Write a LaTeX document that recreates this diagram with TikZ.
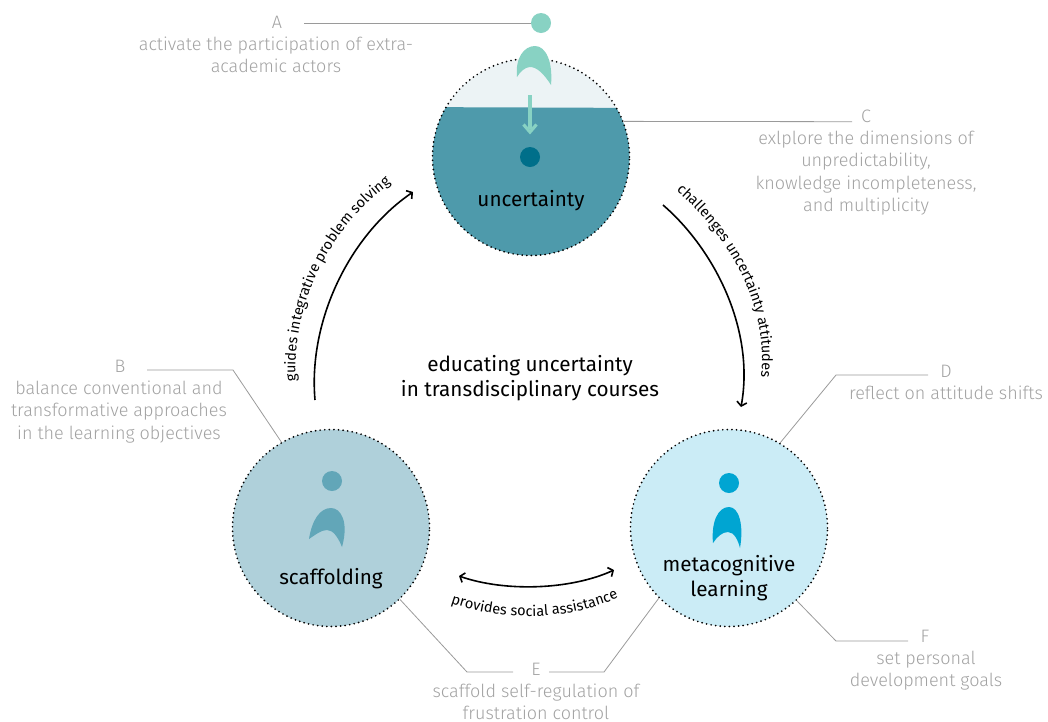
\documentclass[tikz,border=0pt]{standalone}
\usepackage{fontspec}
\setmainfont{Fira Sans}
\newfontfamily\lightfont{Fira Sans Light}
\usetikzlibrary{decorations.text,arrows.meta}
\definecolor{leadgray}{HTML}{9A9A9A}
\definecolor{notegray}{HTML}{A2A2A2}
\definecolor{mint}{HTML}{88D2C3}
\definecolor{topdark}{HTML}{4E9AAB}
\definecolor{toplight}{HTML}{ECF3F5}
\definecolor{topdot}{HTML}{006F8A}
\definecolor{scafffill}{HTML}{AFD0DA}
\definecolor{scaffdark}{HTML}{62A6B8}
\definecolor{metafill}{HTML}{CBECF6}
\definecolor{metadark}{HTML}{00A5D2}
\tikzset{
  stagecircle/.style={circle, draw=black, line width=1.9pt, line cap=round, dash pattern=on 0pt off 4.6pt, minimum size=197pt, inner sep=0pt},
  stagetext/.style={font=\fontsize{20.7}{25}\selectfont, align=center, text=black, inner sep=0pt},
  note/.style={font=\lightfont\fontsize{18}{22.4}\selectfont, align=center, text=notegray, inner sep=0pt},
  leader/.style={draw=leadgray, line width=.8pt},
  loop/.style={line width=1.6pt, >={Straight Barb[length=4pt,width=10pt]}},
}
\begin{document}
\begin{tikzpicture}[x=1pt,y=-1pt]
      \useasboundingbox (0,0) rectangle (1048,721);
      % circles
      \node[stagecircle, fill=toplight, path picture={\fill[topdark] (-131,-50) -- (129,-49) -- (129,140) -- (-131,140) -- cycle;}] (uncertainty) at (531,157) {};
      \node[stagecircle, fill=scafffill] (scaffolding) at (331,528) {};
      \node[stagecircle, fill=metafill] (metacognitive) at (729,528) {};
      \node[stagetext] (uncertaintytext) at (531,201) {uncertainty};
      \node[stagetext] (scaffoldingtext) at (331,579) {scaffolding};
      \node[stagetext] (metacognitivetext) at (729,578.5) {metacognitive\\learning};
      \node[stagetext] (centertext) at (530,378) {educating uncertainty\\in transdisciplinary courses};
      % persons
      \node[circle, fill=mint, minimum size=20pt, inner sep=0pt] (headA) at (541,23) {};
      \fill[mint] (517,77) .. controls (515,58) and (524,46) .. (535,46) .. controls (546,46) and (553,62) .. (551,85) .. controls (544,74) and (537,67) .. (530,67) .. controls (525,67) and (520,72) .. (517,77) -- cycle;
      \node[circle, fill=scaffdark, minimum size=20pt, inner sep=0pt] (headB) at (332,481) {};
      \fill[scaffdark] (309,539) .. controls (312,520) and (320,508) .. (331,508) .. controls (341,508) and (349,522) .. (342,547) .. controls (338,537) and (333,530) .. (327,530) .. controls (321,530) and (315,535) .. (309,539) -- cycle;
      \node[circle, fill=metadark, minimum size=20pt, inner sep=0pt] (headC) at (729,483) {};
      \fill[metadark] (713,543) .. controls (711,522) and (718,507) .. (729,507) .. controls (739,507) and (744,525) .. (740,548) .. controls (738,540) and (734,532) .. (728,532) .. controls (722,532) and (717,537) .. (713,543) -- cycle;
      \node[circle, fill=topdot, minimum size=20pt, inner sep=0pt] (headD) at (530,157) {};
      % drop arrow
      \coordinate (dropstart) at (530,95);
      \coordinate (dropend) at (530,132);
      \draw[mint, line width=3.4pt] (dropstart) -- (530,129);
      \draw[mint, line width=3.2pt] (523.5,124.5) -- (dropend) -- (536.5,124.5);
      % leaders
      \coordinate (leadA) at (304,23);
      \coordinate (leadC) at (852,121.7);
      \coordinate (leadB) at (147,370);
      \coordinate (leadD) at (928,375);
      \coordinate (leadE) at (513,672);
      \coordinate (leadEb) at (549,672);
      \coordinate (leadF) at (908,641);
      \draw[leader] (leadA) -- (headA);
      \draw[leader] (uncertainty.21) -- (leadC);
      \draw[leader] (leadB) -- (233,370) -- (scaffolding.120);
      \draw[leader] (metacognitive.59) -- (836,375) -- (leadD);
      \draw[leader] (scaffolding.-46) -- (467,672) -- (leadE);
      \draw[leader] (leadEb) -- (604,672) -- (metacognitive.-135);
      \draw[leader] (metacognitive.-47) -- (836,641) -- (leadF);
      % notes
      \node[note] (noteA) at (277,22) {A};
      \node[note] (textA) at (276,55) {activate the participation of extra-\\academic actors};
      \node[note] (noteC) at (866,116) {C};
      \node[note] (textC) at (866,173) {exlplore the dimensions of\\unpredictability,\\knowledge incompleteness,\\and multiplicity};
      \node[note] (noteB) at (120,366) {B};
      \node[note] (textB) at (119,412) {balance conventional and\\transformative approaches\\in the learning objectives};
      \node[note] (noteD) at (946,371) {D};
      \node[note] (textD) at (946,393) {reflect on attitude shifts};
      \node[note] (noteE) at (536,669) {E};
      \node[note] (textE) at (536,702) {scaffold self-regulation of\\frustration control};
      \node[note] (noteF) at (925,636) {F};
      \node[note] (textF) at (926,670.5) {set personal\\development goals};
      % loop arrows
      \coordinate (guidesstart) at (315,400);
      \coordinate (guidesend) at (413,192);
      \coordinate (challengesstart) at (663,205);
      \coordinate (challengesend) at (741,407);
      \coordinate (assistleft) at (459,576);
      \coordinate (assistright) at (614,570);
      \draw[loop, ->] (guidesstart) .. controls (308,320) and (350,235) .. (guidesend);
      \draw[loop, ->] (challengesstart) .. controls (715,250) and (755,330) .. (challengesend);
      \draw[loop, <->] (assistleft) .. controls (505,592) and (570,590) .. (assistright);
      % labels on the arrows
      \path[decorate, decoration={text along path, text align=center, text={|\fontsize{14.5}{16}\selectfont|guides integrative problem solving}}] (296,384) .. controls (290,300) and (335,222) .. (393,182);
      \path[decorate, decoration={text along path, text align=center, text={|\fontsize{14.5}{16}\selectfont|challenges uncertainty attitudes}}] (671,186) .. controls (730,235) and (772,310) .. (760,384);
      \path[decorate, decoration={text along path, text align=center, text={|\fontsize{14.5}{16}\selectfont|provides social assistance}}] (445,601) .. controls (500,622) and (570,622) .. (624,595);
    \end{tikzpicture}
\end{document}
